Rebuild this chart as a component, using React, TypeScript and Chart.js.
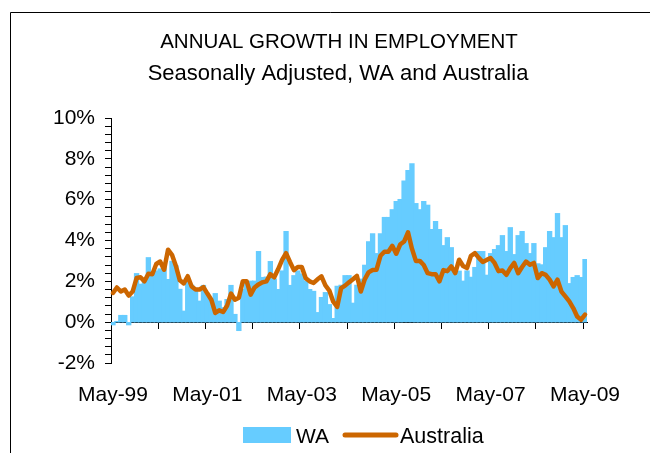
import React, { useEffect, useRef } from 'react';
import { Chart, registerables } from 'chart.js';

Chart.register(...registerables);

const FONT = "'Liberation Sans', Arial, sans-serif";

const monthNames = ['Jan', 'Feb', 'Mar', 'Apr', 'May', 'Jun', 'Jul', 'Aug', 'Sep', 'Oct', 'Nov', 'Dec'];
// Monthly categories, May-99 .. May-09
const categories: string[] = [];
for (let i = 0; i < 121; i++) {
  const m = (4 + i) % 12;
  const yr = 1999 + Math.floor((4 + i) / 12);
  categories.push(`${monthNames[m]}-${String(yr % 100).padStart(2, '0')}`);
}

const xTickLabels = ['May-99', 'May-01', 'May-03', 'May-05', 'May-07', 'May-09'];
const yTickLabels = ['-2%', '0%', '2%', '4%', '6%', '8%', '10%'];

const titleText = 'ANNUAL GROWTH IN EMPLOYMENT';
const subtitleText = 'Seasonally Adjusted, WA and Australia';

// WA annual employment growth (%)
const waValues = [
  -0.12, 0.02, 0.32, 0.32, -0.12, 1.23, 2.37, 1.85, 2.05, 3.15, 2.4, 2.5,
  2.6, 2.75, 2.08, 2.97, 2.75, 1.6, 0.53, 2.0, 1.8, 1.5, 1.02, 1.79,
  1.35, 1.1, 1.39, 1.02, 0.7, 1.1, 1.79, 0.37, -0.4, 1.6, 1.9, 2.0,
  2.0, 3.45, 2.18, 2.2, 2.96, 2.1, 1.59, 2.5, 4.43, 1.79, 2.27, 2.5,
  2.35, 2.0, 1.59, 1.5, 0.46, 1.2, 1.44, 0.85, 0.17, 1.75, 1.8, 2.27,
  2.27, 0.92, 1.8, 2.1, 2.78, 3.93, 4.32, 3.35, 4.32, 5.12, 5.12, 5.5,
  5.9, 6.0, 6.9, 7.42, 7.75, 5.8, 5.5, 5.9, 5.72, 4.53, 4.92, 4.53,
  3.74, 4.13, 3.64, 2.4, 2.49, 2.0, 2.5, 2.19, 2.67, 3.45, 3.45, 2.29,
  3.35, 3.55, 3.74, 4.23, 3.45, 4.62, 3.3, 4.23, 4.43, 3.84, 3.35, 3.84,
  2.85, 2.8, 3.64, 4.43, 4.13, 5.31, 4.13, 4.72, 1.88, 2.18, 2.27, 2.18,
  3.06,
];

// Australia annual employment growth (%)
const ausValues = [
  1.43, 1.7, 1.5, 1.6, 1.3, 1.5, 2.16, 2.2, 2.0, 2.37, 2.35, 2.85,
  2.97, 2.57, 3.55, 3.3, 2.75, 2.05, 1.9, 2.25, 1.75, 1.6, 1.6, 1.72,
  1.4, 1.1, 0.45, 0.58, 0.5, 0.8, 1.4, 1.1, 1.2, 2.0, 2.0, 1.35,
  1.7, 1.85, 1.95, 2.0, 2.35, 2.2, 2.6, 3.05, 3.38, 2.95, 2.55, 2.7,
  2.7, 2.15, 2.0, 1.92, 2.1, 2.24, 1.8, 1.55, 1.0, 0.75, 1.67, 1.79,
  1.95, 2.1, 2.27, 1.5, 2.1, 2.45, 2.55, 2.57, 3.25, 3.45, 3.45, 3.74,
  3.35, 3.8, 3.95, 4.4, 3.6, 3.0, 3.0, 2.8, 2.4, 2.35, 2.35, 2.0,
  2.55, 2.5, 2.73, 2.4, 3.06, 2.75, 2.65, 3.25, 3.38, 3.15, 2.95, 3.05,
  3.14, 2.9, 2.5, 2.53, 2.32, 2.65, 2.9, 2.4, 2.7, 2.97, 2.81, 2.9,
  2.16, 2.4, 2.32, 2.08, 1.75, 2.08, 1.5, 1.26, 1.02, 0.69, 0.28, 0.12,
  0.37,
];

const WA_COLOR = '#66CCFF';
const AUS_COLOR = '#CC6600';

const decorPlugin = {
  id: 'decor',
  beforeDraw(chart: any) {
    const ctx = chart.ctx;
    ctx.save();
    ctx.fillStyle = '#ffffff';
    ctx.fillRect(0, 0, chart.width, chart.height);
    ctx.restore();
  },
  afterDraw(chart: any) {
    const ctx = chart.ctx;
    ctx.save();
    // frame
    ctx.strokeStyle = '#000';
    ctx.lineWidth = 1;
    ctx.beginPath();
    ctx.moveTo(10.5, chart.height);
    ctx.lineTo(10.5, 12.5);
    ctx.lineTo(chart.width, 12.5);
    ctx.stroke();
    // titles
    ctx.fillStyle = '#000';
    ctx.textAlign = 'center';
    ctx.textBaseline = 'alphabetic';
    ctx.font = `20.5px ${FONT}`;
    ctx.fillText(titleText, 339, 48);
    ctx.font = `22px ${FONT}`;
    ctx.fillText(subtitleText, 338, 80);
    // legend
    const ds = chart.data.datasets;
    ctx.textAlign = 'left';
    ctx.font = `21px ${FONT}`;
    ctx.fillStyle = ds[0].backgroundColor;
    ctx.fillRect(243, 427, 48, 16);
    ctx.fillStyle = '#000';
    ctx.fillText(ds[0].label, 296, 443);
    ctx.strokeStyle = ds[1].borderColor;
    ctx.lineWidth = 5;
    ctx.lineCap = 'round';
    ctx.beginPath();
    ctx.moveTo(345, 435);
    ctx.lineTo(396, 435);
    ctx.stroke();
    ctx.fillStyle = '#000';
    ctx.font = `21.5px ${FONT}`;
    ctx.fillText(ds[1].label, 400, 443);
    ctx.restore();
  },
};

function yLabel(v: number): string {
  const k = Math.round(v / 2);
  if (Math.abs(v / 2 - k) < 1e-6) {
    const s = `${k * 2}%`;
    return yTickLabels.includes(s) ? s : '';
  }
  return '';
}

export default function App() {
  const canvasRef = useRef<HTMLCanvasElement | null>(null);

  useEffect(() => {
    if (!canvasRef.current) return;
    const chart = new Chart(canvasRef.current, {
      type: 'bar',
      data: {
        labels: categories,
        datasets: [
          {
            type: 'bar',
            label: 'WA',
            data: waValues,
            backgroundColor: WA_COLOR,
            borderWidth: 0,
            barPercentage: 1,
            categoryPercentage: 1,
            inflateAmount: 0.7,
            order: 1,
          } as any,
          {
            type: 'line',
            label: 'Australia',
            data: ausValues,
            borderColor: AUS_COLOR,
            backgroundColor: AUS_COLOR,
            borderWidth: 4.5,
            pointRadius: 0,
            tension: 0,
            borderCapStyle: 'round',
            borderJoinStyle: 'round',
            order: 0,
          } as any,
        ],
      },
      options: {
        responsive: false,
        animation: false,
        devicePixelRatio: 1,
        layout: { padding: { top: 118, right: 63, left: 0, bottom: 0 } },
        plugins: {
          legend: { display: false },
          title: { display: false },
          tooltip: { enabled: false },
        },
        scales: {
          x: {
            type: 'category',
            offset: true,
            grid: { display: false, drawTicks: false },
            border: { display: false },
            ticks: {
              autoSkip: false,
              maxRotation: 0,
              minRotation: 0,
              padding: 20,
              color: '#000',
              font: { family: FONT, size: 21 },
              callback: (_v: any, idx: number) =>
                xTickLabels.includes(categories[idx]) ? categories[idx] : '',
            },
            afterFit: (s: any) => {
              s.height = 90;
            },
          },
          x0: {
            type: 'category',
            offset: true,
            position: { y: 0 },
            grid: {
              display: true,
              drawOnChartArea: false,
              drawTicks: true,
              tickLength: 6,
              offset: true,
              lineWidth: 1,
              color: (c: any) => (c.index % 12 === 0 ? '#000' : 'rgba(0,0,0,0)'),
            },
            border: { display: true, color: '#000', width: 1 },
            ticks: { display: false, autoSkip: false },
          },
          y: {
            type: 'linear',
            min: -2,
            max: 10,
            grid: { drawOnChartArea: false, tickLength: 6, color: '#000' },
            border: { display: true, color: '#000', width: 1 },
            ticks: {
              stepSize: 0.4,
              autoSkip: false,
              padding: 10,
              color: '#000',
              font: { family: FONT, size: 21 },
              callback: (v: any) => yLabel(Number(v)),
            },
            afterFit: (s: any) => {
              s.width = 111;
            },
          },
        } as any,
      },
      plugins: [decorPlugin],
    });
    return () => chart.destroy();
  }, []);

  return (
    <div style={{ position: 'absolute', left: 0, top: 0, width: 650, height: 453, background: '#fff' }}>
      <canvas ref={canvasRef} width={650} height={453} style={{ width: 650, height: 453, display: 'block' }} />
    </div>
  );
}
